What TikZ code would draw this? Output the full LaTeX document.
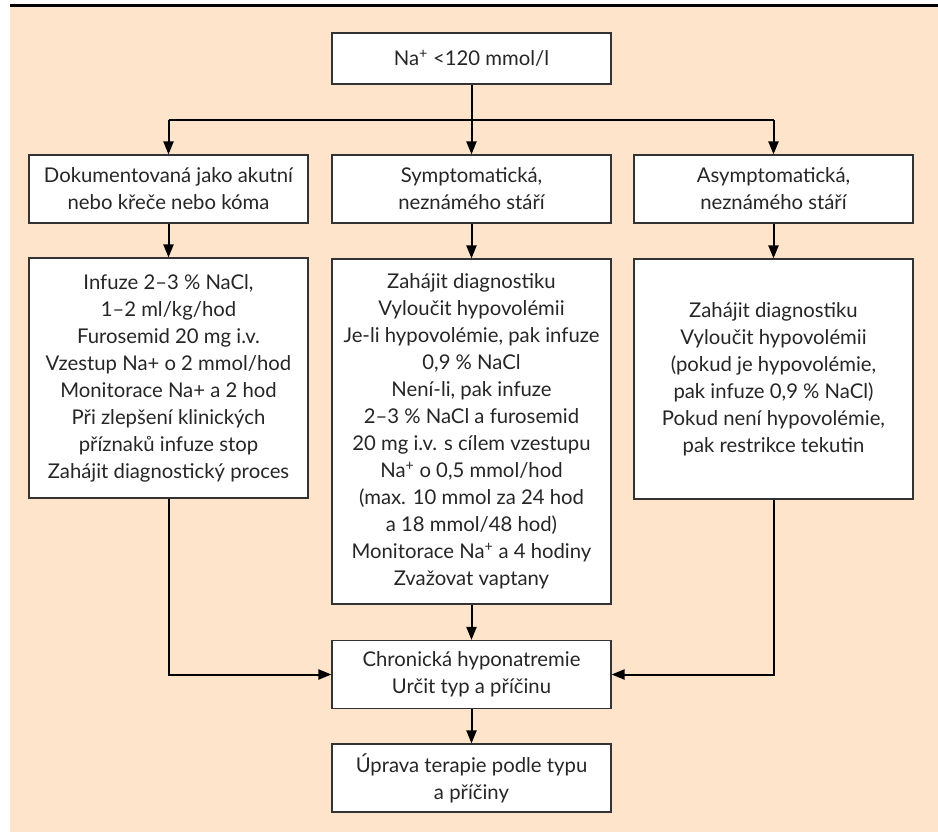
\documentclass[tikz,border=0pt]{standalone}
\usepackage{fontspec}
\setmainfont{Lato}
\usetikzlibrary{arrows.meta,positioning,calc}
\definecolor{peach}{RGB}{253,228,202}

\begin{document}
\begin{tikzpicture}[x=1pt, y=-1pt,
      box/.style={draw=black!80, line width=1.1pt, fill=white, align=center, inner sep=0pt,
        minimum width=279pt, text=black!85, font=\fontsize{20.3}{27}\selectfont},
      link/.style={line width=2pt, black},
      arr/.style={link, -{Triangle[length=13pt, width=10pt]}}
    ]
    \useasboundingbox (0,0) rectangle (938,832);
    \fill[white] (0,0) rectangle (938,832);
    \fill[peach] (10,7) rectangle (938,832);
    \fill[black] (10,4) rectangle (938,7);

    \node[box, minimum height=51pt] (start) at (471.5,58.5) {Na\textsuperscript{+} <120 mmol/l};

    \node[box, minimum height=68pt] (acute) at (168.5,189) {Dokumentovaná jako akutní\\nebo křeče nebo kóma};
    \node[box, minimum height=68pt] (sympt) at (471.5,189) {Symptomatická,\\neznámého stáří};
    \node[box, minimum height=68pt] (asympt) at (773.5,189) {Asymptomatická,\\neznámého stáří};

    \node[box, minimum height=240pt] (acutetx) at (168.5,378) {Infuze 2–3 \% NaCl,\\1–2 ml/kg/hod\\Furosemid 20 mg i.v.\\Vzestup Na+ o 2 mmol/hod\\Monitorace Na+ a 2 hod\\Při zlepšení klinických\\příznaků infuze stop\\Zahájit diagnostický proces};
    \node[box, minimum height=345pt] (symptx) at (471.5,431.5) {Zahájit diagnostiku\\Vyloučit hypovolémii\\Je-li hypovolémie, pak infuze\\0,9 \% NaCl\\Není-li, pak infuze\\2–3 \% NaCl a furosemid\\20 mg i.v. s cílem vzestupu\\Na\textsuperscript{+} o 0,5 mmol/hod\\(max. 10 mmol za 24 hod\\a 18 mmol/48 hod)\\Monitorace Na\textsuperscript{+} a 4 hodiny\\Zvažovat vaptany};
    \node[box, minimum height=240pt] (asymptx) at (773.5,379) {Zahájit diagnostiku\\Vyloučit hypovolémii\\(pokud je hypovolémie,\\pak infuze 0,9 \% NaCl)\\Pokud není hypovolémie,\\pak restrikce tekutin};

    \node[box, minimum height=68pt] (chronic) at (471.5,674.5) {Chronická hyponatremie\\Určit typ a příčinu};
    \node[box, minimum height=68pt] (therapy) at (471.5,778) {Úprava terapie podle typu\\a příčiny};

    \coordinate (split) at (471.5,120);
    \draw[link] (start) -- (split);
    \draw[link] (split -| acute) -- (split -| asympt);
    \draw[arr] (split -| acute) -- (acute);
    \draw[arr] (split) -- (sympt);
    \draw[arr] (split -| asympt) -- (asympt);

    \draw[arr] (acute) -- (acutetx);
    \draw[arr] (sympt) -- (symptx);
    \draw[arr] (asympt) -- (asymptx);

    \draw[arr] (acutetx.south) |- (chronic.west);
    \draw[arr] (asymptx.south) |- (chronic.east);
    \draw[arr] (symptx) -- (chronic);
    \draw[arr] (chronic) -- (therapy);
  \end{tikzpicture}
\end{document}
